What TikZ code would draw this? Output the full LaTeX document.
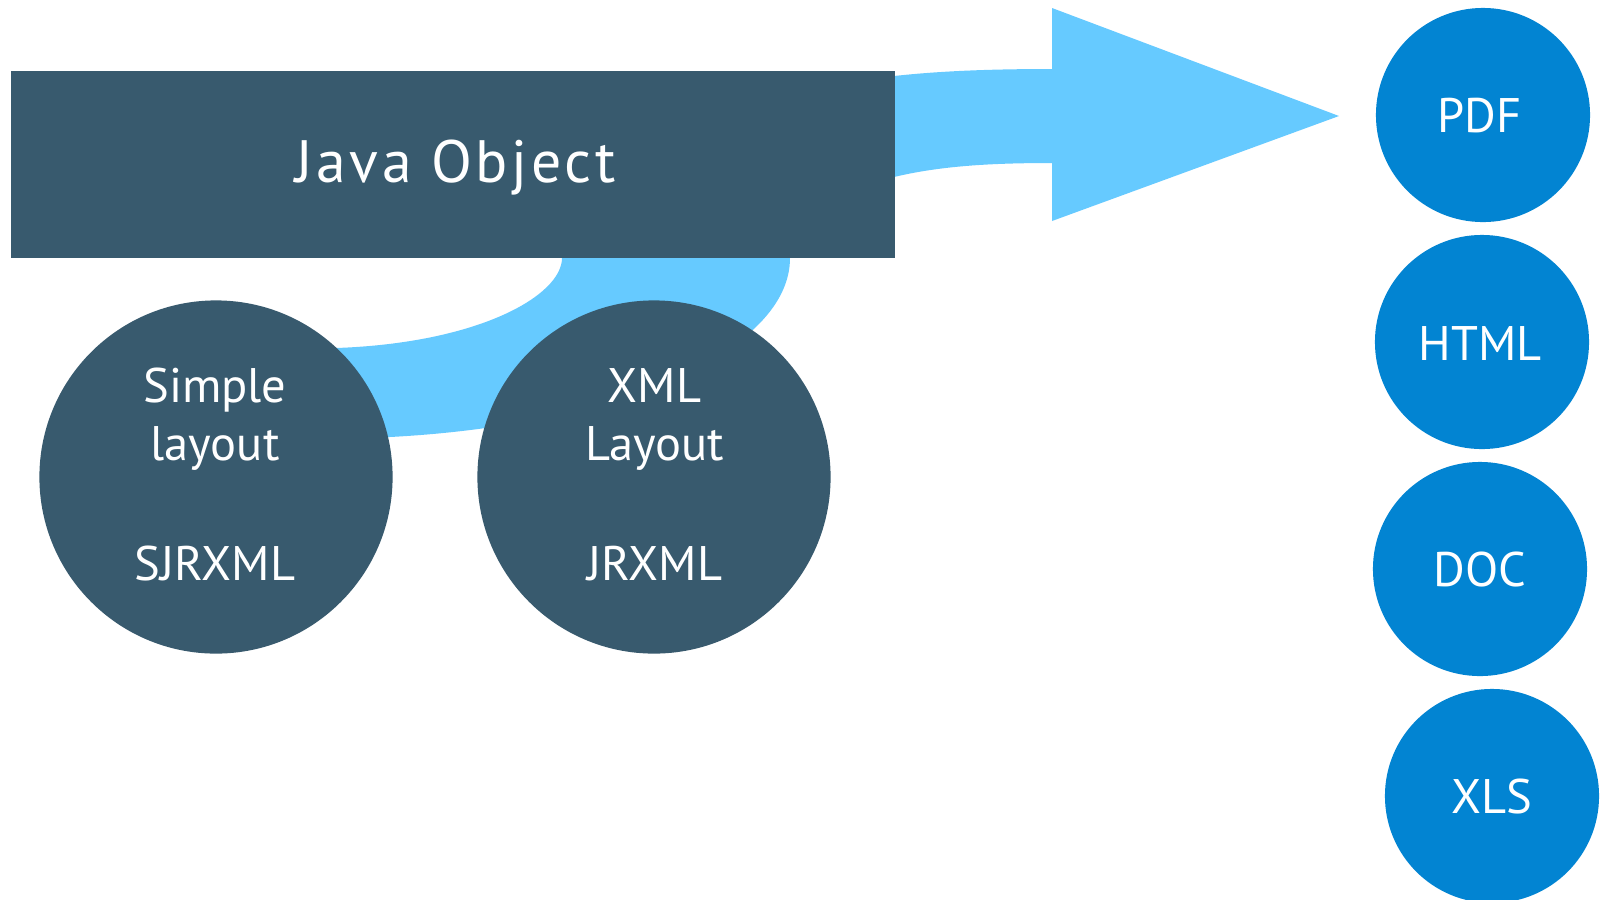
\documentclass[tikz,border=0pt]{standalone}
\usepackage{fontspec}
\setmainfont{PT Sans}
\definecolor{darkbox}{HTML}{385A6E}
\definecolor{outblue}{HTML}{0284D2}
\definecolor{lightband}{HTML}{66CAFF}
\begin{document}
\begin{tikzpicture}[x=0.01cm,y=-0.01cm,
  txt/.style={text=white,inner sep=0pt,anchor=base},
  bigtxt/.style={txt,font=\fontsize{17}{20}\selectfont\addfontfeature{LetterSpace=6}},
  midtxt/.style={txt,font=\fontsize{13.8}{16.5}\selectfont},
  darkcirc/.style={circle,fill=darkbox,minimum size=3.53cm,inner sep=0pt},
  bluecirc/.style={circle,fill=outblue,minimum size=2.14cm,inner sep=0pt}]
\useasboundingbox (0,0) rectangle (1608,899);
\fill[white] (0,0) rectangle (1608,899);
% curved band and arrow
\fill[lightband] (300,348) -- (336,348) .. controls (480,343) and (562,295) .. (562,258)
  -- (562,120) -- (894,76) .. controls (940,71) and (990,69) .. (1052,69)
  -- (1052,8) -- (1339,116) -- (1052,221) -- (1052,163)
  .. controls (990,163) and (940,166) .. (894,177) -- (790,200) -- (790,258)
  .. controls (790,350) and (620,425) .. (390,437) -- (300,437) -- cycle;
% Java object box
\node[fill=darkbox,minimum width=8.83cm,minimum height=1.87cm,inner sep=0pt] (jo) at (452.75,164.5) {};
\node[bigtxt] (jot) at (455.5,182) {Java Object};
% layouts
\node[darkcirc] (sl) at (216,477) {};
\node[darkcirc] (xl) at (654,477) {};
\node[midtxt] (sl1) at (215,402) {Simple};
\node[midtxt] (sl2) at (215,460) {layout};
\node[midtxt] (sl3) at (215,580) {SJRXML};
\node[midtxt] (xl1) at (654.5,402) {XML};
\node[midtxt] (xl2) at (654.5,460) {Layout};
\node[midtxt] (xl3) at (655,580) {JRXML};
% outputs
\node[bluecirc] (pdf) at (1483,115) {};
\node[bluecirc] (html) at (1482,342) {};
\node[bluecirc] (doc) at (1480,569) {};
\node[bluecirc] (xls) at (1492,796) {};
\node[midtxt] (pdft) at (1479.5,132) {PDF};
\node[midtxt] (htmlt) at (1480,360) {HTML};
\node[midtxt] (doct) at (1480,586) {DOC};
\node[midtxt] (xlst) at (1492,813) {XLS};
\end{tikzpicture}
\end{document}
